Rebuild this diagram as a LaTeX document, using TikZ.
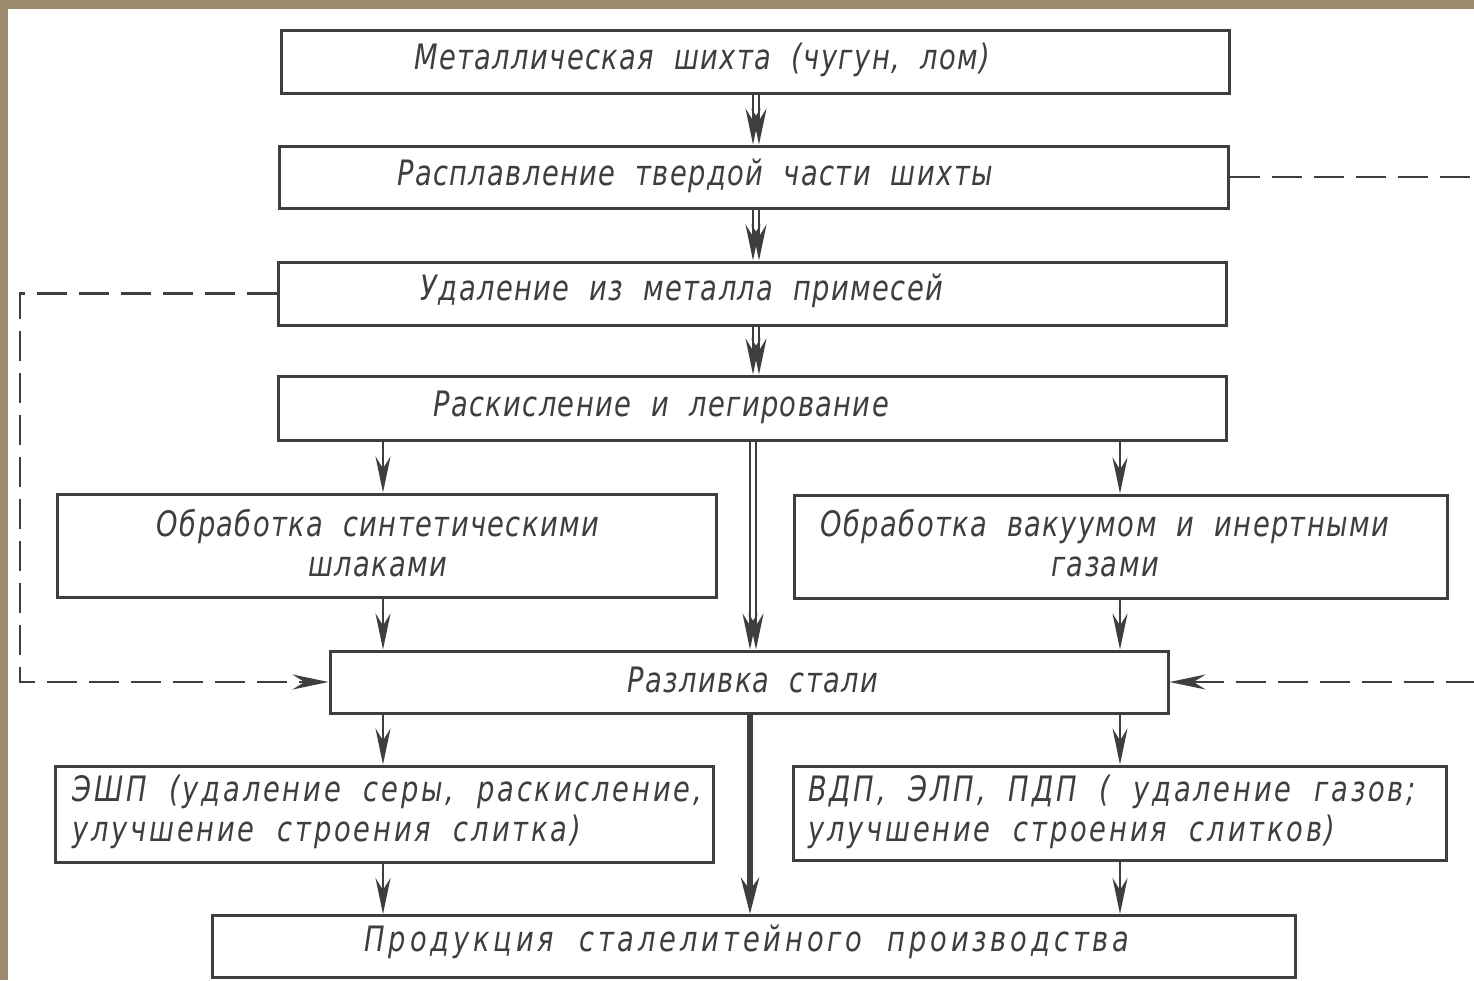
\documentclass[tikz,border=0pt]{standalone}
\usepackage{fontspec}
\setmainfont{DejaVu Sans}[FakeStretch=0.78, LetterSpace=4, WordSpace=2]
\usetikzlibrary{arrows.meta}
\definecolor{ink}{HTML}{3E3E3E}
\definecolor{frame}{HTML}{9C8A6C}
\tikzset{
  box/.style={draw=ink, line width=3pt, rectangle, inner sep=0pt},
  txt/.style={text=ink, font=\fontsize{35}{40}\selectfont\itshape, inner sep=0pt},
  wide/.style={font=\fontsize{35}{40}\selectfont\itshape\addfontfeatures{LetterSpace=#1}},
  tip/.style={-{Stealth[length=36pt, width=15pt, inset=12pt]}},
  arr/.style={draw=ink, line width=2.6pt, tip},
  dsh/.style={draw=ink, line width=2.6pt, dash pattern=on 30pt off 12pt}
}
\begin{document}
\begin{tikzpicture}[x=1pt, y=-1pt]
\fill[frame] (0,0) rectangle (1474,980);
\fill[white] (8,9) rectangle (1474,980);
\useasboundingbox (0,0) rectangle (1474,980);

\coordinate (cl) at (383,0);
\coordinate (cr) at (1120,0);
\coordinate (cm) at (756,0);
\coordinate (dl) at (20,0);
\coordinate (er) at (1476,0);

\node[box, minimum width=948pt, minimum height=63pt] (b1) at (755,61.5) {};
\node[box, minimum width=949pt, minimum height=62pt] (b2) at (753.5,177) {};
\node[box, minimum width=948pt, minimum height=63pt] (b3) at (752,293.5) {};
\node[box, minimum width=948pt, minimum height=64pt] (b4) at (752,408) {};
\node[box, minimum width=659pt, minimum height=103pt] (b5) at (386.5,545.5) {};
\node[box, minimum width=653pt, minimum height=103pt] (b6) at (1120.5,546.5) {};
\node[box, minimum width=838pt, minimum height=62pt] (b7) at (749,682) {};
\node[box, minimum width=658pt, minimum height=96pt] (b8) at (384,814) {};
\node[box, minimum width=653pt, minimum height=94pt] (b9) at (1119.5,813) {};
\node[box, minimum width=1083pt, minimum height=62pt] (b10) at (753.5,946.5) {};

\node[txt] (t1) at (702,60) {Металлическая шихта (чугун, лом)};
\node[txt] (t2) at (695,176) {Расплавление твердой части шихты};
\node[txt] (t3) at (682,291) {Удаление из металла примесей};
\node[txt] (t4) at (661,407) {Раскисление и легирование};
\node[txt, align=center] (t5) at (378,543) {Обработка синтетическими\\шлаками};
\node[txt, align=center] (t6) at (1105,543) {Обработка вакуумом и инертными\\газами};
\node[txt] (t7) at (753,680) {Разливка стали};
\node[txt, wide=8, align=left, anchor=west] (t8) at (72,812) {ЭШП (удаление серы, раскисление,\\улучшение строения слитка)};
\node[txt, wide=8, align=left, anchor=west] (t9) at (808,812) {ВДП, ЭЛП, ПДП ( удаление газов;\\улучшение строения слитков)};
\node[txt, wide=11] (t10) at (747,942) {Продукция сталелитейного производства};

% central double arrows
\foreach \s in {-3,3}{
  \draw[arr] ([xshift=\s pt]b1.south -| cm) -- ([xshift=\s pt]b2.north -| cm);
  \draw[arr] ([xshift=\s pt]b2.south -| cm) -- ([xshift=\s pt]b3.north -| cm);
  \draw[arr] ([xshift=\s pt]b3.south -| cm) -- ([xshift=\s pt]b4.north -| cm);
  \draw[arr] ([xshift=\s-3 pt]b4.south -| cm) -- ([xshift=\s-3 pt]b7.north -| cm);
}
\draw[arr, line width=6pt, -{Stealth[length=36pt, width=18pt, inset=12pt]}] ([xshift=-6pt]b7.south -| cm) -- ([xshift=-6pt]b10.north -| cm);

% side arrows
\draw[arr] (b4.south -| cl) -- (b5.north -| cl);
\draw[arr] (b5.south -| cl) -- (b7.north -| cl);
\draw[arr] (b7.south -| cl) -- (b8.north -| cl);
\draw[arr] (b8.south -| cl) -- (b10.north -| cl);
\draw[arr] (b4.south -| cr) -- (b6.north -| cr);
\draw[arr] (b6.south -| cr) -- (b7.north -| cr);
\draw[arr] (b7.south -| cr) -- (b9.north -| cr);
\draw[arr] (b9.south -| cr) -- (b10.north -| cr);

% dashed connectors
\draw[dsh, tip] (b3.west) -- (b3.west -| dl) -- (b7.west -| dl) -- (b7.west);
\draw[dsh] (b2.east) -- (b2.east -| er);
\draw[dsh, tip] (b7.east -| er) -- (b7.east);
\end{tikzpicture}
\end{document}
